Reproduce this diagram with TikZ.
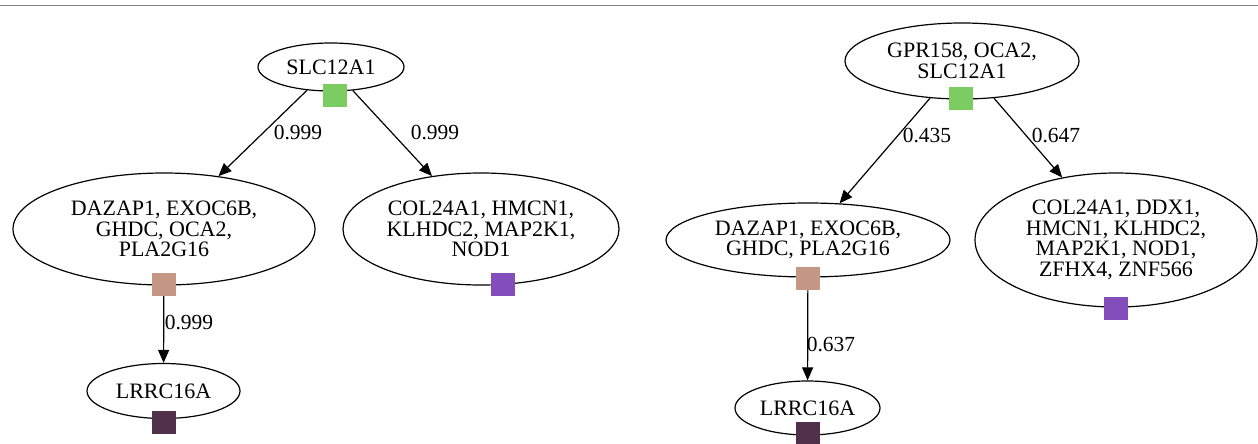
\documentclass[tikz,border=0pt]{standalone}
\usepackage{fontspec}
\setmainfont{Liberation Serif}
\usetikzlibrary{shapes.geometric,arrows.meta}
\definecolor{cgreen}{RGB}{123,205,98}
\definecolor{cbrown}{RGB}{196,152,133}
\definecolor{cpurple}{RGB}{131,78,188}
\definecolor{cdark}{RGB}{80,48,74}
\definecolor{cline}{RGB}{128,128,128}
\begin{document}
\begin{tikzpicture}[x=1pt,y=-1pt,
  gn/.style={ellipse, draw, line width=1.2pt, inner sep=0pt, align=center,
    font=\fontsize{22}{20.5}\selectfont},
  sq/.style={rectangle, inner sep=0pt, minimum width=24pt, minimum height=23pt},
  edge/.style={line width=1.2pt, -{Triangle[length=13pt,width=11pt]}},
  lab/.style={inner sep=0pt, font=\fontsize{21.5}{20}\selectfont}]
\useasboundingbox (0,0) rectangle (1258,444);
\coordinate (tl) at (0,5.5);
\coordinate (tr) at (1258,5.5);
\draw[line width=1.6pt, cline] (tl) -- (tr);

% tree 1
\node[gn, minimum width=146pt, minimum height=48pt] (a1) at (331,67) {SLC12A1};
\node[gn, minimum width=302pt, minimum height=112pt] (b1) at (164,229) {DAZAP1, EXOC6B,\\GHDC, OCA2,\\PLA2G16};
\node[gn, minimum width=276pt, minimum height=112pt] (c1) at (481,229) {COL24A1, HMCN1,\\KLHDC2, MAP2K1,\\NOD1};
\node[gn, minimum width=153pt, minimum height=55pt] (d1) at (163.5,391) {LRRC16A};

\draw[edge] (a1) -- (b1);
\draw[edge] (a1) -- (c1);
\draw[edge] (b1) -- (d1);

\node[lab] (l1) at (298,133) {0.999};
\node[lab] (l2) at (435,133) {0.999};
\node[lab] (l3) at (189,323) {0.999};

\node[sq, fill=cgreen] (s1) at (335,95) {};
\node[sq, fill=cbrown] (s2) at (164,284.5) {};
\node[sq, fill=cpurple] (s3) at (503,284.5) {};
\node[sq, fill=cdark] (s4) at (164,422) {};

% tree 2
\node[gn, minimum width=234pt, minimum height=76pt] (a2) at (962,61) {GPR158, OCA2,\\SLC12A1};
\node[gn, minimum width=284pt, minimum height=74pt] (b2) at (808,240) {DAZAP1, EXOC6B,\\GHDC, PLA2G16};
\node[gn, minimum width=282pt, minimum height=134pt] (c2) at (1116,240) {COL24A1, DDX1,\\HMCN1, KLHDC2,\\MAP2K1, NOD1,\\ZFHX4, ZNF566};
\node[gn, minimum width=145pt, minimum height=54pt] (d2) at (807.5,408) {LRRC16A};

\draw[edge] (a2) -- (b2);
\draw[edge] (a2) -- (c2);
\draw[edge] (b2) -- (d2);

\node[lab] (l4) at (927,136) {0.435};
\node[lab] (l5) at (1056,136) {0.647};
\node[lab] (l6) at (831,344) {0.637};

\node[sq, fill=cgreen] (s5) at (961,98.7) {};
\node[sq, fill=cbrown] (s6) at (807.5,278) {};
\node[sq, fill=cpurple] (s7) at (1115.5,308.7) {};
\node[sq, fill=cdark] (s8) at (807.5,433.5) {};
\end{tikzpicture}
\end{document}
